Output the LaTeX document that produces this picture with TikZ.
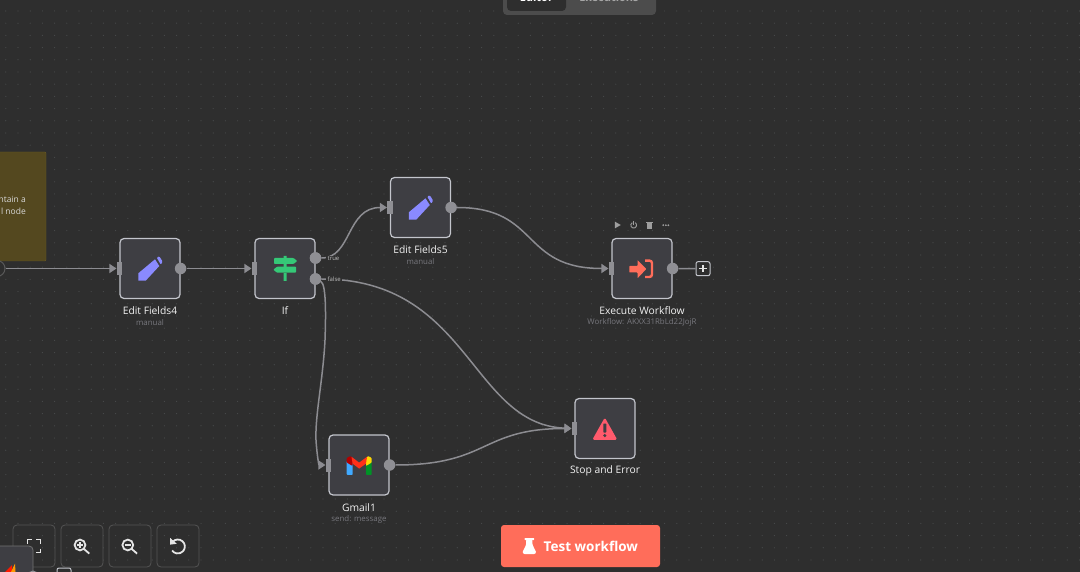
\documentclass[tikz,border=0pt]{standalone}
\usepackage{fontspec}
\setmainfont{Open Sans}
\usetikzlibrary{arrows.meta}
\definecolor{canvasbg}{HTML}{2E2E2E}
\definecolor{griddot}{HTML}{494B4C}
\definecolor{boxfill}{HTML}{3E3E43}
\definecolor{boxline}{HTML}{C3C5CC}
\definecolor{wire}{HTML}{8C8C91}
\definecolor{portgray}{HTML}{8F8F94}
\definecolor{subtext}{HTML}{77777D}
\definecolor{fieldblue}{HTML}{8A8AFF}
\definecolor{ifgreen}{HTML}{35C877}
\definecolor{n8nred}{HTML}{FF6D5A}
\definecolor{stopred}{HTML}{FF5A6C}
\definecolor{stickyfill}{HTML}{54481F}
\definecolor{stickyline}{HTML}{6A5A24}
\tikzset{
  stepbox/.style={draw=boxline,fill=boxfill,line width=1.2pt,rounded corners=4pt,minimum size=60pt,inner sep=0pt},
  inport/.style={fill=portgray,minimum width=5.5pt,minimum height=13pt,inner sep=0pt},
  outport/.style={circle,fill=portgray,minimum size=11.5pt,inner sep=0pt},
  steptitle/.style={text=white!95!black,font=\fontsize{10.3}{12}\selectfont,inner sep=0pt},
  stepsub/.style={text=subtext,font=\fontsize{7.9}{9}\selectfont,inner sep=0pt},
  portlabel/.style={fill=canvasbg,text=white!75!black,font=\fontsize{6}{7}\selectfont,inner sep=1pt},
  wired/.style={draw=wire,line width=1.5pt,-{Triangle[length=7pt,width=9pt]}},
  toolbtn/.style={draw=white!33!black,rounded corners=4pt,minimum size=42pt,inner sep=0pt,line width=.8pt},
  toolicon/.style={draw=white!90!black,line width=1.8pt},
  hovericon/.style={fill=white!62!black}
}
\newcommand{\pencilicon}[2]{%
  \fill[fieldblue,shift={(#1,#2)}](-11.7,12.2)--(-11.7,4.8)--(5,-9.2)--(9.3,-2.5)--(-4.3,12.2)--cycle;
  \fill[fieldblue,shift={(#1,#2)},rounded corners=1pt](6.7,-11)--(9.3,-12.2)--(12.6,-7)--(10.8,-3.8)--cycle;
}
\begin{document}
\begin{tikzpicture}[x=1pt,y=-1pt]
  \useasboundingbox (0,0) rectangle (1080,572);
  \fill[canvasbg] (0,0) rectangle (1080,572);
  % canvas dots
  \foreach \i in {0,...,88}
    \foreach \j in {0,...,46}
      \fill[griddot] ({5.8+12.2*\i},{-1.2+12.2*\j}) circle (.6pt);

  % sticky note
  \node[draw=stickyline,fill=stickyfill,rounded corners=1pt,minimum width=66pt,minimum height=109pt,inner sep=0pt](sticky)at(13,206.5){};
  \node[anchor=east,align=right,text=white!85!black,font=\fontsize{8.5}{12}\selectfont,inner sep=0pt](stickytext)at(26,205.5){ntain a\\l node};

  % steps
  \node[circle,draw=white!35!black,line width=1pt,fill=canvasbg,minimum size=16pt,inner sep=0pt](trigger)at(-3,268.5){};
  \node[stepbox](fields4)at(150,268.5){};
  \node[stepbox](ifstep)at(285,268.5){};
  \node[stepbox](fields5)at(420.5,207.5){};
  \node[stepbox](execute)at(642,268.5){};
  \node[stepbox](gmail)at(359,465){};
  \node[stepbox](stoperror)at(605,428.5){};

  \node[steptitle](fields4title)at(150,310.5){Edit Fields4};
  \node[stepsub](fields4sub)at(150,322.5){manual};
  \node[steptitle](iftitle)at(285,310.5){If};
  \node[steptitle](fields5title)at(420.5,249.5){Edit Fields5};
  \node[stepsub](fields5sub)at(420.5,261.5){manual};
  \node[steptitle](executetitle)at(642,310.5){Execute Workflow};
  \node[stepsub](executesub)at(642,322.5){Workflow: AKXX31RbLd22JojR};
  \node[steptitle](gmailtitle)at(359,507.5){Gmail1};
  \node[stepsub](gmailsub)at(359,519.5){send: message};
  \node[steptitle](stoptitle)at(605,470.5){Stop and Error};

  % ports
  \node[inport](fields4in)at(fields4.west){};
  \node[outport](fields4out)at(fields4.east){};
  \node[inport](ifin)at(ifstep.west){};
  \node[outport](iftrue)at(315.5,258){};
  \node[outport](iffalse)at(315.5,279){};
  \node[inport](fields5in)at(fields5.west){};
  \node[outport](fields5out)at(fields5.east){};
  \node[inport](executein)at(execute.west){};
  \node[outport](executeout)at(execute.east){};
  \node[inport](gmailin)at(gmail.west){};
  \node[outport](gmailout)at(gmail.east){};
  \node[inport](stopin)at(stoperror.west){};
  \node[draw=boxline,fill=canvasbg,line width=1pt,rounded corners=2pt,minimum size=14pt,inner sep=0pt](addstep)at(703,268.7){};

  % connectors
  \path[wired](trigger) -- (fields4in.west);
  \path[wired](fields4out) -- (ifin.west);
  \path[wired](iftrue) .. controls (352,258) and (346,207.5) .. (fields5in.west);
  \path[wired](iffalse) .. controls (470,279) and (470,424) .. (stopin.west);
  \path[wired](iffalse) .. controls (326,284) and (326,312) .. (325,340) .. controls (323,380) and (315,415) .. (316,440) .. controls (317,456) and (319,465) .. (gmailin.west);
  \path[wired](fields5out) .. controls (540,207.5) and (520,268.5) .. (executein.west);
  \path[wired](gmailout) .. controls (490,465) and (480,428.5) .. (stopin.west);
  \draw[wire,line width=1.5pt](executeout) -- (addstep);
  % ports again, over the lines
  \node[outport]at(iftrue){};
  \node[outport]at(iffalse){};
  \node[inport]at(stopin){};
  \node[portlabel,anchor=west](truelabel)at(325.5,258.7){\,true};
  \node[portlabel,anchor=west](falselabel)at(325.5,279){\,false};
  \draw[white!90!black,line width=1.2pt](703,265)--(703,272.4)(699.3,268.7)--(706.7,268.7);

  % step icons
  \pencilicon{150}{268.5}
  \pencilicon{420.5}{207.5}
  \fill[ifgreen](283.5,256)rectangle(286.5,258)(283.5,264)rectangle(286.5,267)(283.5,273)rectangle(286.5,281);
  \fill[ifgreen,rounded corners=.8pt](274,258)--(293.5,258)--(297.3,261)--(293.5,264)--(274,264)--cycle;
  \fill[ifgreen,rounded corners=.8pt](296,266.7)--(277,266.7)--(273.3,269.7)--(277,272.7)--(296,272.7)--cycle;
  \fill[n8nred,rounded corners=.6pt](629.3,266)--(637.5,266)--(637.5,260)--(646.3,269)--(637.5,278.3)--(637.5,272.5)--(629.3,272.5)--cycle;
  \draw[n8nred,line width=2.4pt,rounded corners=2.5pt](645,260.6)--(652,260.6)--(652,277)--(645,277);
  \fill[stopred,rounded corners=1.6pt](604.8,417.5)--(617.3,439.8)--(592.3,439.8)--cycle;
  \fill[boxfill,rounded corners=.6pt](603.3,423.5)rectangle(606.3,432.5);
  \fill[boxfill](604.8,435.6)circle(1.7pt);
  % gmail icon
  \fill[blue!45!cyan!75!white,rounded corners=.6pt](346.7,461)--(352.6,463)--(352.6,474.8)--(346.7,474.8)--cycle;
  \fill[green!50!black!85!cyan,rounded corners=.6pt](371.7,461)--(366,463)--(366,474.8)--(371.7,474.8)--cycle;
  \fill[red!70!black,rounded corners=.8pt](346.7,462.5)--(346.7,458)--(350.5,456)--(352.6,458)--(352.6,466)--cycle;
  \fill[yellow!75!orange,rounded corners=.8pt](371.7,462.5)--(371.7,458)--(368,456)--(366,458)--(366,466)--cycle;
  \fill[red!80!orange!90!white](351.5,456.8)--(359.2,462.6)--(367,456.8)--(366,463.6)--(359.2,468.6)--(352.6,463.6)--cycle;

  % hover bar over the last step
  \fill[hovericon](614.8,221.6)--(620.8,225)--(614.8,228.4)--cycle;
  \draw[white!62!black,line width=.9pt](632.25,222.7) arc[start angle=120,delta angle=300,radius=2.9pt];
  \draw[white!62!black,line width=.9pt](633.7,221)--(633.7,224.8);
  \fill[hovericon](647.2,223)rectangle(652,228.6);
  \fill[hovericon](646.3,221.6)rectangle(652.9,222.6);
  \foreach \d in {663.2,665.8,668.4}
    \fill[hovericon](\d,225.2)circle(1pt);

  % top tabs
  \fill[white!30!black,rounded corners=4pt](503,-10)rectangle(656,15);
  \fill[canvasbg,rounded corners=4pt](507,-10)rectangle(566,11);
  \node[text=white,font=\bfseries\fontsize{11}{13}\selectfont,inner sep=0pt](editortab)at(536.5,-2.5){Editor};
  \node[text=white!65!black,font=\bfseries\fontsize{11}{13}\selectfont,inner sep=0pt](executionstab)at(609,-2.5){Executions};

  % canvas buttons
  \node[toolbtn](fitbtn)at(34,546){};
  \node[toolbtn](zoominbtn)at(82,546){};
  \node[toolbtn](zoomoutbtn)at(130,546){};
  \node[toolbtn](undobtn)at(178,546){};
  \draw[toolicon](27.5,543.5)--(27.5,539.5)--(32,539.5)(36,539.5)--(40.5,539.5)--(40.5,543.5)(40.5,548.5)--(40.5,552.5)--(36,552.5)(32,552.5)--(27.5,552.5)--(27.5,548.5);
  \draw[toolicon](80,545)circle(5.4pt)(84,549)--(89.3,553.6);
  \draw[toolicon,line width=1.2pt](77.3,545)--(82.7,545)(80,542.3)--(80,547.7);
  \draw[toolicon](127.8,545)circle(5.4pt)(131.8,549)--(137.1,553.6);
  \draw[toolicon,line width=1.2pt](125.1,545)--(130.5,545);
  \draw[toolicon](172.5,542) arc[start angle=140,delta angle=-285,radius=7pt];
  \fill[white!90!black](170,537.8)--(170.2,544.6)--(176.8,543.8)--cycle;

  % minimap corner
  \node[draw=white!45!black,fill=boxfill,rounded corners=4pt,line width=.8pt,minimum width=60pt,minimum height=60pt,inner sep=0pt](cornerstep)at(3,576){};
  \fill[red!80!orange](5,572)--(12,565)--(12,572)--cycle;
  \fill[orange!80!yellow](11,572)--(15,563.5)--(15.5,572)--cycle;
  \node[circle,fill=portgray,minimum size=11pt,inner sep=0pt](cornerout)at(33,576){};
  \node[draw=boxline,fill=canvasbg,line width=1pt,rounded corners=2pt,minimum size=14pt,inner sep=0pt](corneradd)at(64,575){};

  % test button
  \node[fill=n8nred,rounded corners=3pt,minimum width=159pt,minimum height=42pt,inner sep=0pt](testbtn)at(580.5,546){};
  \node[text=white,font=\fontsize{13.5}{15}\selectfont\bfseries,anchor=west,inner sep=0pt](testtext)at(543.5,546){Test workflow};
  \fill[white,rounded corners=.5pt](524.5,538)rectangle(534,540);
  \fill[white,rounded corners=1pt](526.2,539.5)--(532.4,539.5)--(532.4,544.5)--(536.3,552.5)--(535,554)--(523.7,554)--(522.4,552.5)--(526.2,544.5)--cycle;
\end{tikzpicture}
\end{document}
